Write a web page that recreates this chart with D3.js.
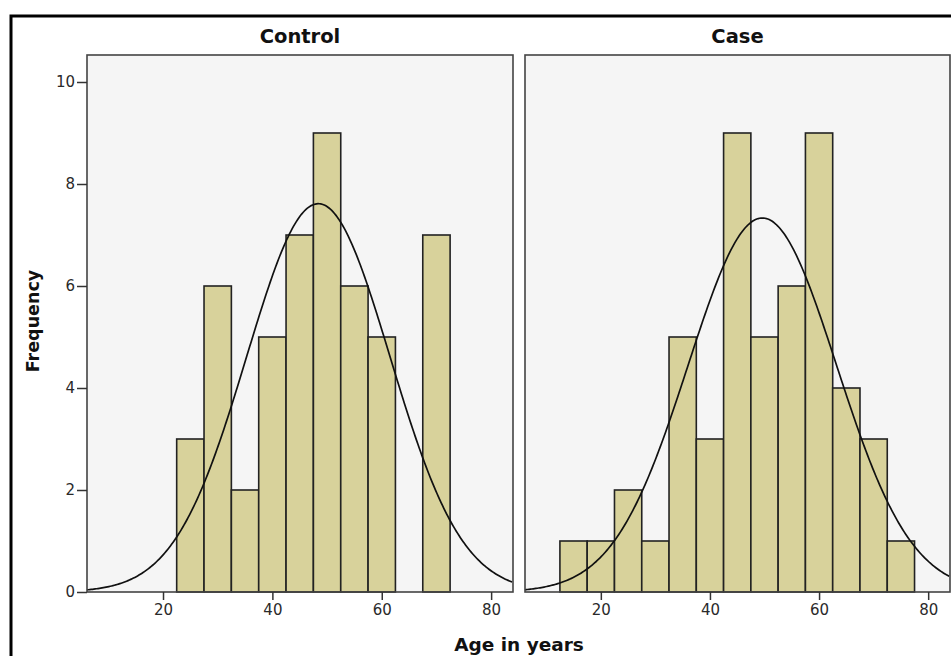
<!DOCTYPE html>
<html><head><meta charset="utf-8">
<script src="https://cdn.jsdelivr.net/npm/d3@7"></script>
<style>body{margin:0;background:#fff}svg{display:block}</style>
</head><body>
<svg id="c" width="951" height="656"></svg>
<script>
// Data
const binStarts = [12.5,17.5,22.5,27.5,32.5,37.5,42.5,47.5,52.5,57.5,62.5,67.5,72.5];
const binWidth = 5;
const controlCounts = [0,0,3,6,2,5,7,9,6,5,0,7,0];
const caseCounts    = [1,1,2,1,5,3,9,5,6,9,4,3,1];
const panelTitles = ["Control","Case"];
const fitMean = [48.4, 49.6];
const fitSD = [13.1, 13.6];
const xTicks = [20,40,60,80];
const yTicks = [0,2,4,6,8,10];

const FONT = "DejaVu Sans, Verdana, sans-serif";
const svg = d3.select("#c");
// outer frame
svg.append("path").attr("d","M11,656 L11,16 L951,16").attr("fill","none").attr("stroke","#000").attr("stroke-width",3);

const panels = [{x0:87,x1:513,counts:controlCounts},{x0:525,x1:950,counts:caseCounts}];
const yTop=55, yBot=592;
const y = d3.scaleLinear().domain([0,10]).range([yBot,82]);

panels.forEach((p,i)=>{
  const x = d3.scaleLinear().domain([6.1,84]).range([p.x0,p.x1]);
  const g = svg.append("g");
  g.append("rect").attr("x",p.x0).attr("y",yTop).attr("width",p.x1-p.x0).attr("height",yBot-yTop)
    .attr("fill","#f5f5f5");
  g.selectAll("rect.bar").data(binStarts.map((s,k)=>({s,c:p.counts[k]})).filter(d=>d.c>0))
    .enter().append("rect").attr("class","bar")
    .attr("x",d=>x(d.s)).attr("width",d=>x(d.s+binWidth)-x(d.s))
    .attr("y",d=>y(d.c)).attr("height",d=>y(0)-y(d.c))
    .attr("fill","#d8d29b").attr("stroke","#222").attr("stroke-width",1.6);
  const N = d3.sum(p.counts);
  const pts = d3.range(6.1,84.01,0.25).map(v=>[v, N*binWidth/(fitSD[i]*Math.sqrt(2*Math.PI))*Math.exp(-0.5*Math.pow((v-fitMean[i])/fitSD[i],2))]);
  g.append("path").datum(pts).attr("fill","none").attr("stroke","#111").attr("stroke-width",1.7)
    .attr("d",d3.line().x(d=>x(d[0])).y(d=>y(d[1])));
  g.append("rect").attr("x",p.x0).attr("y",yTop).attr("width",p.x1-p.x0).attr("height",yBot-yTop)
    .attr("fill","none").attr("stroke","#444").attr("stroke-width",1.6);
  const ax = g.append("g").attr("transform",`translate(0,${yBot})`)
    .call(d3.axisBottom(x).tickValues(xTicks).tickSize(8).tickPadding(4));
  ax.attr("font-family",FONT).attr("font-size",15);
  ax.select(".domain").remove();
  ax.selectAll("line").attr("stroke","#333").attr("stroke-width",1.5);
  ax.selectAll("text").style("font-size","15px").style("font-family",FONT).attr("fill","#2a2a2a");
  g.append("text").attr("x",(p.x0+p.x1)/2).attr("y",43).attr("text-anchor","middle")
    .style("font-family",FONT).style("font-weight","bold").style("font-size","19.5px").attr("fill","#111")
    .text(panelTitles[i]);
  if(i===0){
    const ay = g.append("g").attr("transform",`translate(${p.x0},0)`)
      .call(d3.axisLeft(y).tickValues(yTicks).tickSize(10).tickPadding(2));
    ay.attr("font-family",FONT).attr("font-size",15);
    ay.select(".domain").remove();
    ay.selectAll("line").attr("stroke","#333").attr("stroke-width",1.5);
    ay.selectAll("text").style("font-size","15px").style("font-family",FONT).attr("fill","#2a2a2a");
  }
});

svg.append("text").attr("transform","translate(39,321) rotate(-90)").attr("text-anchor","middle")
  .style("font-family",FONT).style("font-weight","bold").style("font-size","17.5px").attr("fill","#111")
  .text("Frequency");
svg.append("text").attr("x",519).attr("y",651).attr("text-anchor","middle")
  .style("font-family",FONT).style("font-weight","bold").style("font-size","18.5px").attr("fill","#111")
  .text("Age in years");
</script>
</body></html>
